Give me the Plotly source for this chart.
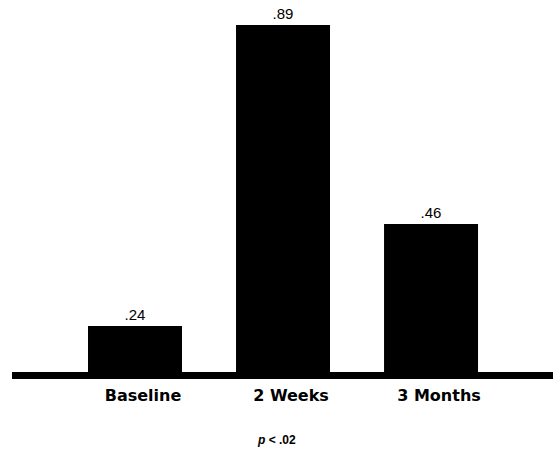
import plotly.graph_objects as go

categories = ["Baseline", "2 Weeks", "3 Months"]
values = [0.24, 0.89, 0.46]
value_labels = [f"{v:.2f}".lstrip("0") for v in values]
footnote = "<i>p</i> < .02"

fig = go.Figure(
    go.Bar(
        x=categories,
        y=values,
        text=value_labels,
        textposition="outside",
        textfont=dict(family="Liberation Sans", size=15, color="black"),
        marker=dict(color="black", line=dict(width=0)),
        width=0.635,
        cliponaxis=True,
        hoverinfo="skip",
    )
)

fig.update_layout(
    width=553,
    height=450,
    margin=dict(l=12, r=0, t=0, b=78),
    paper_bgcolor="white",
    plot_bgcolor="white",
    showlegend=False,
)

fig.update_xaxes(
    type="category",
    range=[-0.831, 2.824],
    showline=True,
    linecolor="black",
    linewidth=7,
    showgrid=False,
    zeroline=False,
    ticks="",
    ticklabelshift=8,
    ticklabelstandoff=3,
    tickfont=dict(family="DejaVu Sans", size=16, color="black", weight="bold"),
)

fig.update_yaxes(
    range=[0.1406, 0.944],
    visible=False,
    showgrid=False,
    zeroline=False,
)

plot_w = 553 - 12
plot_h = 450 - 78
fig.add_annotation(
    text=f"<b>{footnote}</b>",
    x=(276 - 12) / plot_w,
    y=(372 - 440) / plot_h,
    xref="paper",
    yref="paper",
    xanchor="center",
    yanchor="middle",
    showarrow=False,
    font=dict(family="Liberation Sans", size=12, color="black"),
)

fig.write_html(
    "out.html",
    config={"displayModeBar": False, "staticPlot": True},
    post_script="document.body.style.margin='0';document.body.style.overflow='hidden';",
)
